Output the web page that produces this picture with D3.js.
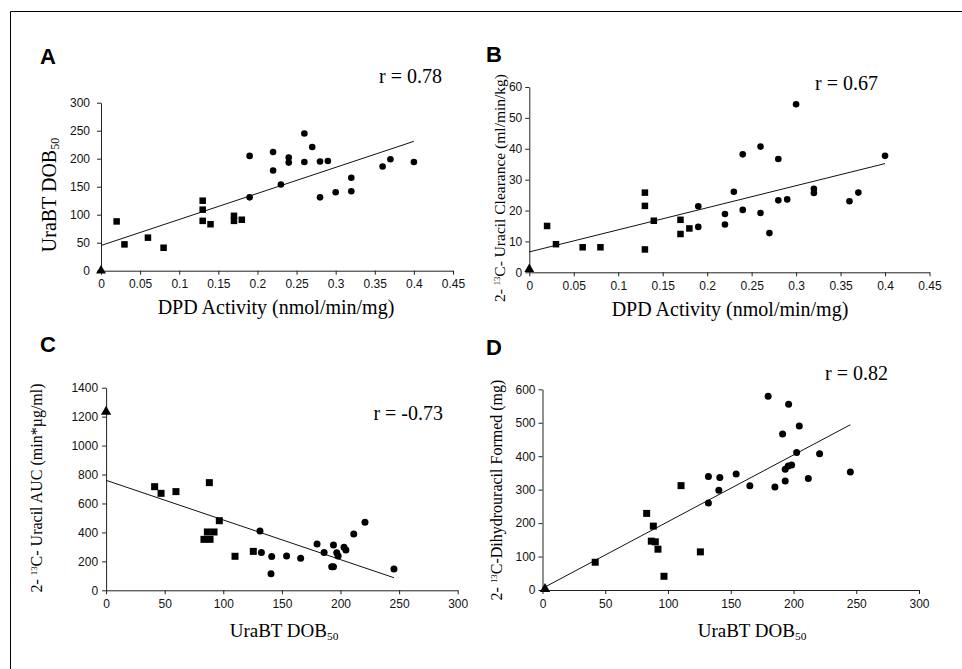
<!DOCTYPE html>
<html><head><meta charset="utf-8">
<script src="https://cdn.jsdelivr.net/npm/d3@7"></script>
<style>body{margin:0;background:#fff}svg{display:block}</style>
</head><body><svg id="c" width="962" height="669"></svg>
<script>
// ---------- DATA ----------
const dpdTicks = [0,0.05,0.1,0.15,0.2,0.25,0.3,0.35,0.4,0.45];
const dobTicks = [0,50,100,150,200,250,300];
const aYTicks = [0,50,100,150,200,250,300];
const bYTicks = [0,10,20,30,40,50,60];
const cYTicks = [0,200,400,600,800,1000,1200,1400];
const dYTicks = [0,100,200,300,400,500,600];

// Panel A: DPD activity vs UraBT DOB50
const aSqX = [0.02,0.03,0.06,0.08,0.13,0.13,0.13,0.14,0.17,0.17,0.18];
const aSqY = [88,47,59,41,125,109,89,83,98,89,91];
const aCiX = [0.19,0.19,0.22,0.22,0.23,0.24,0.24,0.26,0.26,0.27,0.28,0.28,0.29,0.30,0.32,0.32,0.36,0.37,0.40];
const aCiY = [205,131,212,179,154,202,193,245,194,221,195,131,196,140,166,142,186,199,194];
const aTrX = [0], aTrY = [0];
const aFitX = [0,0.4], aFitY = [45,231];

// Panel B: DPD activity vs 2-13C uracil clearance
const bSqX = [0.02,0.03,0.06,0.08,0.13,0.13,0.13,0.14,0.17,0.17,0.18];
const bSqY = [15,9.1,8.1,8.1,25.8,21.5,7.4,16.7,17,12.4,14.2];
const bCiX = [0.19,0.19,0.22,0.22,0.23,0.24,0.24,0.26,0.26,0.27,0.28,0.28,0.29,0.30,0.32,0.32,0.36,0.37,0.40];
const bCiY = [21.4,14.7,18.9,15.5,26.1,38.2,20.2,40.7,19.2,12.7,36.7,23.3,23.6,54.4,27,25.7,23,25.8,37.7];
const bTrX = [0], bTrY = [1];
const bFitX = [0,0.4], bFitY = [6.6,35.2];

// Panel C: UraBT DOB50 vs 2-13C uracil AUC
const cSqX = [41.4,46.9,59.6,88.1,96.6,86.4,92.1,83.5,88.7,110,125.6];
const cSqY = [716,670,682,744,481,403,403,352,352,235,269];
const cCiX = [131.3,132.5,140.7,141.3,154,166,180,186,192.5,194,194,196.8,198,203,204.6,211.3,220.9,245.6];
const cCiY = [410,262,115,233,237,221,320,262,163,313,163,260,237,297,278,389,470,148];
const cTrX = [0], cTrY = [1234];
const cFitX = [0,245.6], cFitY = [760,87];

// Panel D: UraBT DOB50 vs 2-13C dihydrouracil formed
const dSqX = [42,83,88.3,86.7,89.9,92,96.8,110.4,125.8];
const dSqY = [83,229,191,146,144,122,41,312,114];
const dCiX = [132.2,132.2,141.3,140.5,154.3,165.2,179.8,185.2,191.3,193.4,193.4,196.1,195.8,198.5,202.5,204.6,211.8,220.8,245.3];
const dCiY = [339,260,336,298,347,312,579,308,466,326,361,555,371,374,411,490,333,407,353];
const dTrX = [2], dTrY = [3];
const dFitX = [0,245.3], dFitY = [5,494];

// ---------- DRAW ----------
const svg = d3.select('#c');
const SANS = 'Liberation Sans, Arial, sans-serif';
const SERIF = 'Liberation Serif, Times New Roman, serif';

// outer frame (left + top)
svg.append('path').attr('d','M10.5,669 L10.5,11.5 L962,11.5').attr('fill','none').attr('stroke','#000').attr('stroke-width',1);

function panel(o){
  const x = d3.scaleLinear().domain(o.xDom).range(o.xRange);
  const y = d3.scaleLinear().domain(o.yDom).range(o.yRange);
  const g = svg.append('g');
  const fmt = v => String(+v.toFixed(2));
  const xa = g.append('g').attr('transform',`translate(0,${o.yRange[0]})`)
    .call(d3.axisBottom(x).tickValues(o.xTicks).tickFormat(fmt).tickSize(4).tickPadding(5).tickSizeOuter(0));
  const ya = g.append('g').attr('transform',`translate(${o.xRange[0]},0)`)
    .call(d3.axisLeft(y).tickValues(o.yTicks).tickFormat(fmt).tickSize(4).tickPadding(o.yPad).tickSizeOuter(0));
  [xa,ya].forEach(a=>{
    a.selectAll('text').attr('font-family',SANS).attr('font-size',12).attr('fill','#111');
    a.selectAll('line,path').attr('stroke','#222');
  });
  // fit line
  g.append('line').attr('x1',x(o.fitX[0])).attr('y1',y(o.fitY[0]))
    .attr('x2',x(o.fitX[1])).attr('y2',y(o.fitY[1]))
    .attr('stroke','#111').attr('stroke-width',1);
  // squares
  const s = o.sq;
  g.selectAll(null).data(o.sqX.map((v,i)=>[v,o.sqY[i]])).enter().append('rect')
    .attr('x',d=>x(d[0])-s/2).attr('y',d=>y(d[1])-s/2).attr('width',s).attr('height',s).attr('fill','#000');
  // circles
  g.selectAll(null).data(o.ciX.map((v,i)=>[v,o.ciY[i]])).enter().append('circle')
    .attr('cx',d=>x(d[0])).attr('cy',d=>y(d[1])).attr('r',o.r).attr('fill','#000');
  // triangle
  g.selectAll(null).data(o.trX.map((v,i)=>[v,o.trY[i]])).enter().append('path')
    .attr('d',d3.symbol(d3.symbolTriangle, o.tri)())
    .attr('transform',d=>`translate(${x(d[0])},${y(d[1])})`).attr('fill','#000');
  // panel letter
  svg.append('text').attr('x',o.letterPos[0]).attr('y',o.letterPos[1]).text(o.letter)
    .attr('font-family',SANS).attr('font-weight','bold').attr('font-size',22).attr('fill','#000');
  // r label
  svg.append('text').attr('x',o.rPos[0]).attr('y',o.rPos[1]).attr('text-anchor','end').text(o.rText)
    .attr('font-family',SERIF).attr('font-size',20).attr('fill','#000');
  // x title
  const xt = svg.append('text').attr('x',o.xtPos[0]).attr('y',o.xtPos[1]).attr('text-anchor','middle')
    .attr('font-family',SERIF).attr('font-size',o.xtSize).attr('fill','#000');
  o.xTitle(xt);
  // y title
  const yt = svg.append('text').attr('transform',`translate(${o.ytPos[0]},${o.ytPos[1]}) rotate(-90)`)
    .attr('text-anchor','middle').attr('font-family',SERIF).attr('font-size',o.ytSize).attr('fill','#000');
  o.yTitle(yt);
}

function dob(t){ t.append('tspan').text('UraBT DOB'); t.append('tspan').attr('font-size','0.6em').attr('dy','0.25em').text('50'); }
function iso(t, rest){ t.append('tspan').text('2- '); t.append('tspan').attr('font-size','0.55em').attr('dy','-0.6em').text('13'); t.append('tspan').attr('dy','0.33em').text(rest); }
function dpd(t){ t.text('DPD Activity (nmol/min/mg)'); }

panel({xDom:[0,0.45], xRange:[101,453], yDom:[0,300], yRange:[270.7,102.7], xTicks:dpdTicks, yTicks:aYTicks, yPad:7,
  sqX:aSqX, sqY:aSqY, ciX:aCiX, ciY:aCiY, trX:aTrX, trY:aTrY, fitX:aFitX, fitY:aFitY, sq:6.5, r:3.3, tri:42,
  letter:'A', letterPos:[40,64], rText:'r = 0.78', rPos:[442,83],
  xtPos:[276,314], xtSize:20, xTitle:dpd, ytPos:[56,195], ytSize:20, yTitle:dob});

panel({xDom:[0,0.45], xRange:[529.3,929.5], yDom:[0,60], yRange:[272.3,87], xTicks:dpdTicks, yTicks:bYTicks, yPad:3,
  sqX:bSqX, sqY:bSqY, ciX:bCiX, ciY:bCiY, trX:bTrX, trY:bTrY, fitX:bFitX, fitY:bFitY, sq:6.5, r:3.3, tri:42,
  letter:'B', letterPos:[486,62], rText:'r = 0.67', rPos:[878,90],
  xtPos:[730,316], xtSize:20, xTitle:dpd, ytPos:[505,188], ytSize:15.5, yTitle:t=>iso(t,'C- Uracil Clearance (ml/min/kg)')});

panel({xDom:[0,300], xRange:[106.1,457.7], yDom:[0,1400], yRange:[590.3,387.7], xTicks:dobTicks, yTicks:cYTicks, yPad:4,
  sqX:cSqX, sqY:cSqY, ciX:cCiX, ciY:cCiY, trX:cTrX, trY:cTrY, fitX:cFitX, fitY:cFitY, sq:7, r:3.5, tri:46,
  letter:'C', letterPos:[40,352], rText:'r = -0.73', rPos:[443,420],
  xtPos:[284,637], xtSize:19, xTitle:dob, ytPos:[42,488], ytSize:16, yTitle:t=>iso(t,'C- Uracil AUC (min*µg/ml)')});

panel({xDom:[0,300], xRange:[542.5,919], yDom:[0,600], yRange:[590,389.3], xTicks:dobTicks, yTicks:dYTicks, yPad:3,
  sqX:dSqX, sqY:dSqY, ciX:dCiX, ciY:dCiY, trX:dTrX, trY:dTrY, fitX:dFitX, fitY:dFitY, sq:7, r:3.5, tri:46,
  letter:'D', letterPos:[486,355], rText:'r = 0.82', rPos:[888,380],
  xtPos:[752,637], xtSize:19, xTitle:dob, ytPos:[502,490], ytSize:16, yTitle:t=>iso(t,'C-Dihydrouracil Formed (mg)')});
</script></body></html>
